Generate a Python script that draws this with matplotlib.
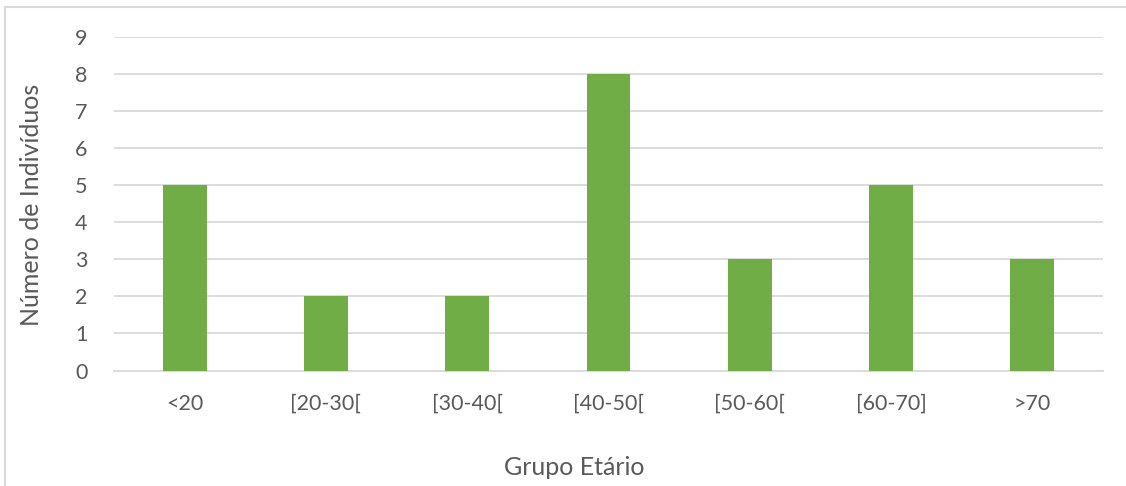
import matplotlib
matplotlib.use('Agg')
import matplotlib.pyplot as plt
from matplotlib.lines import Line2D
import numpy as np

# Age groups and number of individuals
grupos = ['<20', '[20-30[', '[30-40[', '[40-50[', '[50-60[', '[60-70]', '>70']
individuos = [5, 2, 2, 8, 3, 5, 3]
y_ticks = list(range(0, 10))

plt.rcParams['font.family'] = ['Lato', 'DejaVu Sans']
text_color = '#595959'
grid_color = '#d9d9d9'
bar_color = '#70ad47'

W, H = 1126, 486
fig = plt.figure(figsize=(W / 100, H / 100), dpi=100)
ax = fig.add_axes([114 / W, (H - 370.5) / H, (1103 - 114) / W, (370.5 - 37) / H])

x = np.arange(len(grupos))
ax.bar(x, individuos, width=0.31, color=bar_color, zorder=3)

ax.set_xlim(-0.5, len(grupos) - 0.5)
ax.set_ylim(0, 9)
ax.set_yticks(y_ticks)
ax.set_xticks(x)
ax.set_xticklabels(grupos)
ax.grid(axis='y', color=grid_color, linewidth=1.3, zorder=0)
ax.tick_params(axis='both', length=0, labelsize=15.5, colors=text_color)
ax.tick_params(axis='y', pad=19)
ax.tick_params(axis='x', pad=17)
for side in ['top', 'right', 'left']:
    ax.spines[side].set_visible(False)
ax.spines['bottom'].set_color(grid_color)
ax.spines['bottom'].set_linewidth(1.3)

fig.text(574 / W, 1 - 467 / H, 'Grupo Etário', ha='center', va='center',
         fontsize=18, color=text_color)
fig.text(32 / W, 1 - 205 / H, 'Número de Indivíduos', ha='center', va='center',
         rotation=90, fontsize=18, color=text_color)

# chart area outline
fig.add_artist(Line2D([5 / W, 1.0], [1 - 7 / H, 1 - 7 / H], color=grid_color,
                      linewidth=1.5, transform=fig.transFigure))
fig.add_artist(Line2D([5 / W, 5 / W], [0, 1 - 7 / H], color=grid_color,
                      linewidth=1.5, transform=fig.transFigure))

fig.savefig('out.png', dpi=100)
plt.close(fig)
